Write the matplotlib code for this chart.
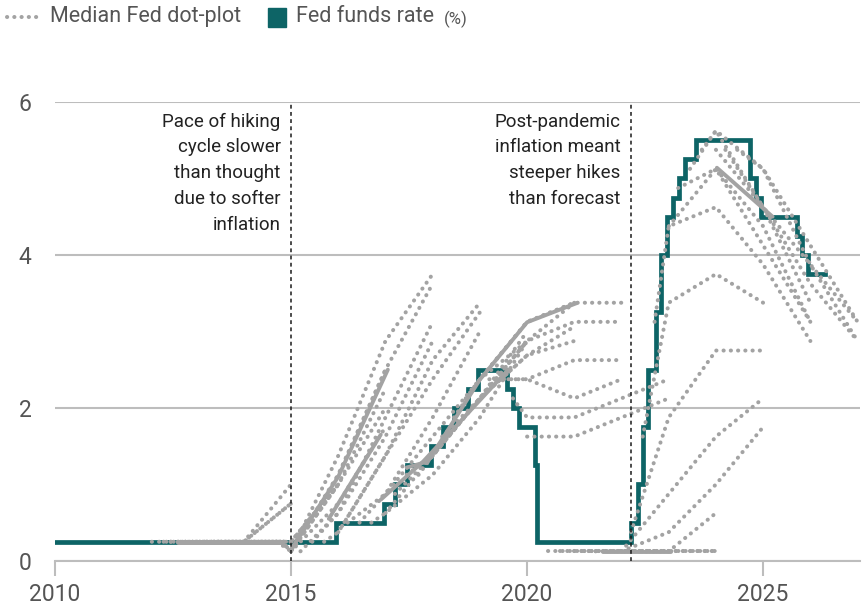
import matplotlib
matplotlib.use('Agg')
import matplotlib.pyplot as plt
from matplotlib.patches import Rectangle
from matplotlib.lines import Line2D

plt.rcParams['font.family'] = ['Roboto', 'DejaVu Sans']

# Fed funds rate, upper bound (%), step changes
rate_dates = [2010.0, 2015.96, 2016.96, 2017.21, 2017.46, 2017.96, 2018.22, 2018.46,
              2018.74, 2018.97, 2019.58, 2019.71, 2019.83, 2020.17, 2020.21, 2022.21,
              2022.34, 2022.46, 2022.57, 2022.72, 2022.84, 2022.96, 2023.09, 2023.22,
              2023.34, 2023.57, 2024.72, 2024.85, 2024.96, 2025.71, 2025.83, 2025.96, 2026.3]
rate_values = [0.25, 0.5, 0.75, 1.0, 1.25, 1.5, 1.75, 2.0,
               2.25, 2.5, 2.25, 2.0, 1.75, 1.25, 0.25, 0.5,
               1.0, 1.75, 2.5, 3.25, 4.0, 4.5, 4.75, 5.0,
               5.25, 5.5, 5.0, 4.75, 4.5, 4.25, 4.0, 3.75, 3.75]

# Median dot-plot paths, one per projection round (year-end points)
dot_x = [
    [2012.05, 2013, 2014, 2015],
    [2012.3, 2013, 2014, 2015],
    [2012.45, 2013, 2014, 2015],
    [2012.7, 2013, 2014, 2015, 2016],
    [2013.0, 2014, 2015, 2016],
    [2013.2, 2014, 2015, 2016],
    [2013.45, 2014, 2015, 2016],
    [2013.7, 2014, 2014.8, 2015, 2016, 2017],
    [2014.0, 2014.8, 2015, 2016, 2017],
    [2014.2, 2014.8, 2015, 2016, 2017],
    [2014.45, 2014.8, 2015, 2016, 2017],
    [2014.7, 2015, 2016, 2017, 2018],
    [2015.0, 2016, 2017, 2018],
    [2015.2, 2016, 2017, 2018],
    [2015.45, 2016, 2017, 2018],
    [2015.7, 2016, 2017, 2018, 2019],
    [2016.0, 2017, 2018, 2019],
    [2016.2, 2017, 2018, 2019],
    [2016.45, 2017, 2018, 2019],
    [2016.7, 2017, 2018, 2019, 2020],
    [2017.0, 2018, 2019, 2020],
    [2017.2, 2018, 2019, 2020],
    [2017.45, 2018, 2019, 2020],
    [2017.7, 2018, 2019, 2020, 2021],
    [2018.0, 2019, 2020, 2021],
    [2018.2, 2019, 2020, 2021],
    [2018.45, 2019, 2020, 2021],
    [2018.7, 2019, 2020, 2021, 2022],
    [2019.0, 2020, 2021, 2022],
    [2019.2, 2020, 2021, 2022],
    [2019.45, 2020, 2021, 2022],
    [2019.7, 2020, 2021, 2022, 2023],
    [2020.0, 2021, 2022, 2023],
    [2020.45, 2021, 2022, 2023],
    [2020.7, 2021, 2022, 2023, 2024],
    [2021.0, 2022, 2023, 2024],
    [2021.2, 2022, 2023, 2024],
    [2021.45, 2022, 2023, 2024],
    [2021.7, 2022, 2023, 2024, 2025],
    [2022.0, 2023, 2024, 2025],
    [2022.2, 2023, 2024, 2025],
    [2022.45, 2023, 2024, 2025],
    [2022.7, 2023, 2024, 2025, 2026],
    [2023.0, 2024, 2025, 2026],
    [2023.2, 2024, 2025, 2026],
    [2023.45, 2024, 2025, 2026],
    [2023.7, 2024, 2025, 2026, 2027],
    [2024.0, 2025, 2026, 2027],
    [2024.2, 2025, 2026, 2027],
    [2024.45, 2025, 2026, 2027],
]
dot_y = [
    [0.25, 0.25, 0.25, 0.75],
    [0.25, 0.25, 0.25, 1.0],
    [0.25, 0.25, 0.25, 0.75],
    [0.25, 0.25, 0.25, 0.25, 1.0],
    [0.25, 0.25, 0.25, 1.0],
    [0.25, 0.25, 0.25, 1.0],
    [0.25, 0.25, 0.25, 1.0],
    [0.25, 0.25, 0.25, 0.125, 1.0, 2.0],
    [0.25, 0.25, 0.125, 0.75, 1.75],
    [0.25, 0.25, 0.125, 1.0, 2.25],
    [0.25, 0.25, 0.125, 1.125, 2.5],
    [0.25, 0.125, 1.375, 2.875, 3.75],
    [0.125, 1.125, 2.5, 3.625],
    [0.125, 0.625, 1.875, 3.125],
    [0.25, 0.625, 1.625, 2.875],
    [0.25, 0.375, 1.375, 2.625, 3.375],
    [0.375, 1.375, 2.375, 3.25],
    [0.5, 0.875, 1.875, 3.0],
    [0.5, 0.875, 1.625, 2.375],
    [0.5, 0.625, 1.125, 1.875, 2.875],
    [0.625, 1.375, 2.125, 2.875],
    [0.875, 1.375, 2.125, 3.0],
    [1.125, 1.375, 2.125, 2.875],
    [1.125, 1.375, 2.125, 2.688, 2.875],
    [1.375, 2.125, 2.688, 3.063],
    [1.625, 2.125, 2.875, 3.375],
    [1.875, 2.375, 3.125, 3.375],
    [2.125, 2.375, 3.125, 3.375, 3.375],
    [2.375, 2.875, 3.125, 3.125],
    [2.375, 2.375, 2.625, 2.625],
    [2.375, 2.375, 2.125, 2.375],
    [2.125, 1.875, 1.875, 2.125, 2.375],
    [1.625, 1.625, 1.875, 2.125],
    [0.125, 0.125, 0.125, 0.125],
    [0.125, 0.125, 0.125, 0.125, 0.125],
    [0.125, 0.125, 0.125, 0.125],
    [0.125, 0.125, 0.125, 0.125],
    [0.125, 0.125, 0.125, 0.625],
    [0.125, 0.125, 0.375, 1.0, 1.75],
    [0.125, 0.875, 1.625, 2.125],
    [0.375, 1.875, 2.75, 2.75],
    [1.625, 3.375, 3.75, 3.375],
    [3.125, 4.375, 4.625, 3.875, 2.875],
    [4.375, 5.125, 4.125, 3.125],
    [4.875, 5.125, 4.375, 3.125],
    [5.125, 5.625, 4.625, 3.375],
    [5.375, 5.625, 5.125, 3.875, 2.875],
    [5.375, 4.625, 3.625, 2.875],
    [5.375, 4.625, 3.875, 3.125],
    [5.375, 5.125, 4.125, 3.125],
]

# stretches where overlapping dot-plot paths read as a solid line
solid_x = [
    [2012.6, 2014.8],
    [2015.0, 2016.0, 2017.05],
    [2015.8, 2016.0, 2016.9],
    [2016.9, 2017.8, 2019.0, 2019.6],
    [2017.45, 2017.9, 2019.0, 2020.0, 2021.05],
    [2021.6, 2023.05],
    [2024.02, 2025.2],
]
solid_y = [
    [0.25, 0.25],
    [0.15, 1.1, 2.5],
    [0.55, 0.75, 1.65],
    [0.8, 1.3, 2.1, 2.5],
    [1.22, 1.3, 2.37, 3.12, 3.37],
    [0.12, 0.12],
    [5.14, 4.5],
]

event_dates = [2015.0, 2022.2]
event_notes = ["Pace of hiking\ncycle slower\nthan thought\ndue to softer\ninflation",
               "Post-pandemic\ninflation meant\nsteeper hikes\nthan forecast"]

teal = '#0d6466'
dot_grey = '#a3a3a3'
grid_grey = '#bdbdbd'
text_grey = '#555555'

fig = plt.figure(figsize=(8.66, 6.07), dpi=100)
ax = fig.add_axes([0.0635, 0.076, 0.9295, 0.756])

ax.step(rate_dates, rate_values, where='post', color=teal, lw=3.4,
        solid_joinstyle='miter', zorder=3)

for xs, ys in zip(dot_x, dot_y):
    ax.plot(xs, ys, color=dot_grey, lw=2.9, linestyle=(0, (0.05, 1.75)),
            dash_capstyle='round', zorder=4)
for i, (xs, ys) in enumerate(zip(solid_x, solid_y)):
    ax.plot(xs, ys, color=dot_grey, lw=3.6 if i == 0 else 2.8,
            solid_capstyle='round', zorder=4)

for xd, note in zip(event_dates, event_notes):
    ax.plot([xd, xd], [0, 6], color='#1a1a1a', lw=1.1, linestyle=(0, (2.5, 2.2)),
            zorder=6, clip_on=False)
    ax.text(xd - 0.22, 5.86, note, ha='right', va='top', fontsize=13.5,
            color='#222222', linespacing=1.55, zorder=7)

ax.set_xlim(2010, 2027.05)
ax.set_ylim(0, 6)
ax.set_yticks([0, 2, 4, 6])
ax.set_xticks([2010, 2015, 2020, 2025])
ax.grid(axis='y', color=grid_grey, lw=1.5)
ax.set_axisbelow(True)
for s in ['top', 'right', 'left']:
    ax.spines[s].set_visible(False)
ax.spines['bottom'].set_color(grid_grey)
ax.spines['bottom'].set_linewidth(1.5)
ax.tick_params(axis='y', length=0, pad=17, labelsize=16.5, labelcolor=text_grey)
ax.tick_params(axis='x', length=11, width=1.5, color=grid_grey, pad=5,
               labelsize=16.5, labelcolor=text_grey)

# legend row above the plot
fig.add_artist(Line2D([0.008, 0.045], [0.972, 0.972], color=dot_grey, lw=2.9,
                      linestyle=(0, (0.05, 1.75)), dash_capstyle='round'))
t1 = fig.text(0.058, 0.972, "Median Fed dot-plot", fontsize=15.5, color=text_grey,
              va='center', ha='left')
fig.canvas.draw()
r = fig.canvas.get_renderer()
x_box = t1.get_window_extent(r).x1 / fig.bbox.width + 0.031
fig.add_artist(Rectangle((x_box, 0.956), 0.021, 0.030, color=teal,
                         transform=fig.transFigure))
t2 = fig.text(x_box + 0.032, 0.972, "Fed funds rate", fontsize=15.5, color=text_grey,
              va='center', ha='left')
fig.canvas.draw()
x_pct = t2.get_window_extent(r).x1 / fig.bbox.width + 0.011
fig.text(x_pct, 0.968, "(%)", fontsize=12, color=text_grey, va='center', ha='left')

fig.savefig('out.png', dpi=100)
